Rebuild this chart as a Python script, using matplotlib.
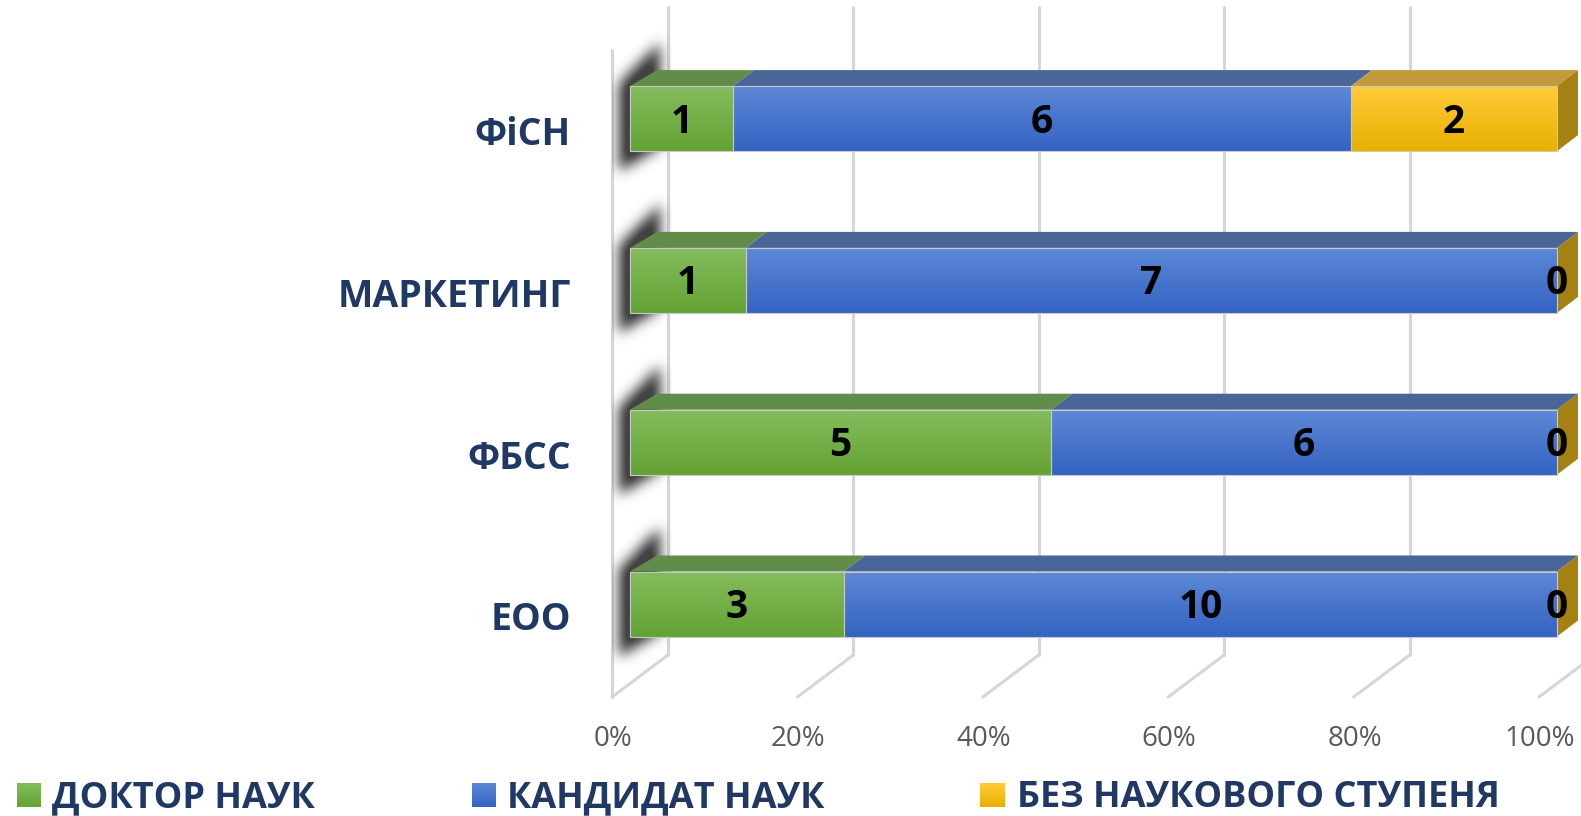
import numpy as np
import matplotlib
matplotlib.use('Agg')
import matplotlib.pyplot as plt
from matplotlib.patches import Polygon, Rectangle
from matplotlib.path import Path
from matplotlib.colors import LinearSegmentedColormap, to_rgb

# ---------------- data ----------------
categories = ['ЕОО', 'ФБСС', 'МАРКЕТИНГ', 'ФіСН']
series_names = ['ДОКТОР НАУК', 'КАНДИДАТ НАУК', 'БЕЗ НАУКОВОГО СТУПЕНЯ']
doctor = [3, 5, 1, 1]
candidate = [10, 6, 7, 6]
no_degree = [0, 0, 0, 2]
tick_values = [0.0, 0.2, 0.4, 0.6, 0.8, 1.0]
tick_labels = ['0%', '20%', '40%', '60%', '80%', '100%']

# ---------------- style ----------------
plt.rcParams['font.family'] = ['Open Sans', 'DejaVu Sans']
front_top = ['#84bd5c', '#5c88d6', '#ffcb3a']
front_bot = ['#63a234', '#3463c2', '#e8b000']
top_cols = ['#618c4a', '#4a6598', '#c39a3c']
side_col = ['#6a9440', '#3f5b94', '#a58113']
label_col = '#203864'
grid_col = '#d6d6d6'

W, H = 1581, 816
fig = plt.figure(figsize=(W / 100, H / 100), dpi=100)
ax = fig.add_axes([0, 0, 1, 1])
X0, XS = 630.0, 927.0      # pixel of 0%, pixels per 100%
Y0, YS = 604.0, 161.8      # pixel of first category center, pixels per category


def px2x(p):
    return (p - X0) / XS


def px2y(p):
    return (Y0 - p) / YS


def dxp(p):
    return p / XS


def dyp(p):
    return p / YS


def grad_fill(x0, x1, y0, y1, ctop, cbot, z):
    cmap = LinearSegmentedColormap.from_list('g', [cbot, ctop])
    g = np.linspace(0, 1, 64).reshape(-1, 1)
    ax.imshow(g, cmap=cmap, extent=(x0, x1, y0, y1), origin='lower',
              aspect='auto', interpolation='bilinear', zorder=z)


def blur(a, s):
    r = int(3 * s)
    k = np.exp(-0.5 * (np.arange(-r, r + 1) / s) ** 2)
    k /= k.sum()
    a = np.apply_along_axis(lambda m: np.convolve(m, k, mode='same'), 0, a)
    a = np.apply_along_axis(lambda m: np.convolve(m, k, mode='same'), 1, a)
    return a


# ---------------- walls / gridlines ----------------
back_dx, floor_back_px, floor_front_px, top_px = 38, 655, 697, 7
for t in tick_values:
    xb = t + dxp(back_dx)
    xf = t - dxp(18)
    ax.plot([xb, xb], [px2y(floor_back_px), px2y(top_px)], color=grid_col, lw=2.2, zorder=1,
            solid_capstyle='round')
    ax.plot([xb, xf], [px2y(floor_back_px), px2y(floor_front_px)], color=grid_col, lw=2.2,
            zorder=1, solid_capstyle='round')
# left wall front edge
ax.plot([-dxp(18), -dxp(18)], [px2y(floor_front_px), px2y(50)], color=grid_col, lw=2.2,
        zorder=1, solid_capstyle='round')

# ---------------- shadows on the left wall ----------------
bar_h = dyp(65)
for i in range(len(categories)):
    yc = Y0 - YS * i
    T, B = yc - 32.5, yc + 32.5
    poly = [(619, T - 2), (619, B + 20), (660, B - 4), (660, T - 44)]
    xs = np.arange(612, 672) + 0.5
    ys = np.arange(int(T - 80), int(B + 55)) + 0.5
    XX, YY = np.meshgrid(xs, ys)
    m = Path(poly).contains_points(np.c_[XX.ravel(), YY.ravel()]).reshape(XX.shape).astype(float)
    m = blur(m, 6.5)
    img = np.zeros(m.shape + (4,))
    img[..., :3] = to_rgb('#2e2e2e')
    img[..., 3] = np.clip(m * 1.15, 0, 1) * 0.9
    ax.imshow(img, extent=(px2x(612), px2x(672), px2y(ys[-1] + 0.5), px2y(ys[0] - 0.5)),
              origin='upper', aspect='auto', interpolation='bilinear', zorder=2)

# ---------------- bars ----------------
series = [doctor, candidate, no_degree]
totals = [sum(v) for v in zip(*series)]
ypos = np.arange(len(categories))
left = np.zeros(len(categories))
ddy = dyp(16)
for s, vals in enumerate(series):
    frac = np.array(vals) / np.array(totals)
    bars = ax.barh(ypos, frac, left=left, height=bar_h, color=front_bot[s], zorder=3)
    for i, (rect, v) in enumerate(zip(bars, vals)):
        l, r = left[i], left[i] + frac[i]
        yt = ypos[i] + bar_h / 2
        yb = ypos[i] - bar_h / 2
        if frac[i] > 0:
            grad_fill(l, r, yb, yt, front_top[s], front_bot[s], 4)
            ox_l = dxp(27) if l == 0 else dxp(21)
            ox_r = dxp(21)
            ax.add_patch(Polygon([(l, yt), (r, yt), (r + ox_r, yt + ddy), (l + ox_l, yt + ddy)],
                                 closed=True, facecolor=top_cols[s], edgecolor='none', zorder=3))
            ax.add_patch(Rectangle((l, yb), r - l, bar_h, fill=False, edgecolor='#c8c8c8',
                                   lw=0.8, zorder=5))
    left = left + frac

# right side face (last series colour)
for i in range(len(categories)):
    r = left[i]
    yt = ypos[i] + bar_h / 2
    yb = ypos[i] - bar_h / 2
    ox = dxp(21)
    ax.add_patch(Polygon([(r, yb), (r, yt), (r + ox, yt + ddy), (r + ox, yb + ddy)],
                         closed=True, facecolor=side_col[2], edgecolor='none', zorder=3))

# value labels
left = np.zeros(len(categories))
for s, vals in enumerate(series):
    frac = np.array(vals) / np.array(totals)
    for i, v in enumerate(vals):
        cx = left[i] + frac[i] / 2
        ax.text(cx, ypos[i] - dyp(14), str(v), ha='center', va='baseline', fontsize=28,
                fontweight='bold', color='black', zorder=7)
    left = left + frac

# category labels
for i, c in enumerate(categories):
    ax.text(px2x(571), ypos[i] - dyp(26.5), c, ha='right', va='baseline', fontsize=27,
            fontweight='bold', color=label_col, zorder=7)

# tick labels
for t, lab in zip(tick_values, tick_labels):
    ax.text(t - dxp(17), px2y(746), lab, ha='center', va='baseline', fontsize=20,
            color='#595959', zorder=7)

# ---------------- legend ----------------
leg_sq_x = [17, 472, 980]
leg_tx_x = [52, 507, 1017]
for s, name in enumerate(series_names):
    x0, x1 = px2x(leg_sq_x[s]), px2x(leg_sq_x[s] + 24)
    grad_fill(x0, x1, px2y(807), px2y(783), front_top[s], front_bot[s], 4)
    ax.text(px2x(leg_tx_x[s]), px2y(807), name, ha='left', va='baseline', fontsize=26,
            fontweight='bold', color=label_col, zorder=7)

ax.set_xlim(-X0 / XS, (W - X0) / XS)
ax.set_ylim((Y0 - H) / YS, Y0 / YS)
ax.axis('off')
fig.savefig('out.png', dpi=100)
